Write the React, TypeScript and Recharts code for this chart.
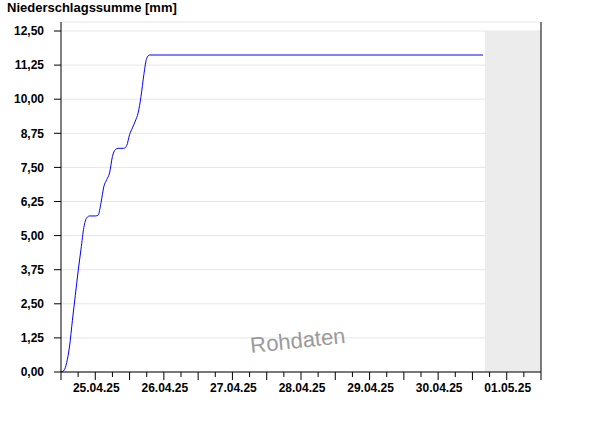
import { LineChart, Line, XAxis, YAxis, CartesianGrid, ReferenceArea, ReferenceLine } from "recharts";

// hours since 25.04.25 00:00
const hours = [0, 1, 2, 3, 4, 5, 6, 7, 8, 9, 10, 12, 13, 14, 15, 16, 17, 18, 19, 20, 22, 23, 24, 25, 26, 27, 28, 29, 30, 31, 147.7];
const precipSum = [0, 0.05, 0.35, 0.95, 1.9, 2.8, 3.7, 4.5, 5.3, 5.65, 5.72, 5.72, 5.75, 6.2, 6.8, 7.05, 7.3, 7.9, 8.15, 8.2, 8.2, 8.3, 8.7, 8.95, 9.2, 9.5, 10.1, 10.9, 11.5, 11.62, 11.62];

const dayLabels = ["25.04.25", "26.04.25", "27.04.25", "28.04.25", "29.04.25", "30.04.25", "01.05.25"];
const yTicks = [0, 1.25, 2.5, 3.75, 5, 6.25, 7.5, 8.75, 10, 11.25, 12.5];
const xTicks = Array.from({ length: 29 }, (_, i) => i * 6);
const noDataFrom = 148.4;

const data = hours.map((h, i) => ({ h, v: precipSum[i] }));

const font = "'Liberation Sans', Arial, sans-serif";

function XTick(props: any) {
  const { x, y, payload } = props;
  const v = payload.value;
  const long = v % 12 === 0;
  const day = Math.floor(v / 24);
  return (
    <g>
      <line x1={x} x2={x} y1={y - 8} y2={y - 8 + (long ? 8 : 5)} stroke="#000" />
      {v % 24 === 12 && dayLabels[day] && (
        <text x={x + 1} y={y + 12} textAnchor="middle" fontSize={12} fontWeight="bold" fontFamily={font} fill="#000">
          {dayLabels[day]}
        </text>
      )}
    </g>
  );
}

export default function App() {
  return (
    <div style={{ position: "fixed", left: 0, top: 0, width: 600, height: 426, background: "#fff", fontFamily: font }}>
      <div style={{ position: "absolute", left: 7, top: 0, fontSize: 13, fontWeight: "bold" }}>Niederschlagssumme [mm]</div>
      <LineChart width={600} height={426} data={data} margin={{ top: 22, right: 59, bottom: 24, left: 0 }}>
        <CartesianGrid vertical={false} stroke="#e6e6e6" />
        <ReferenceArea x1={noDataFrom} x2={168} y1={0} y2={12.5} fill="#ececec" fillOpacity={1} stroke="none" />
        <XAxis
          dataKey="h"
          type="number"
          domain={[0, 168]}
          ticks={xTicks}
          interval={0}
          height={30}
          axisLine={{ stroke: "#000" }}
          tickLine={false}
          tick={<XTick />}
        />
        <YAxis
          type="number"
          domain={[0, 12.83]}
          ticks={yTicks}
          interval={0}
          width={61}
          axisLine={{ stroke: "#000" }}
          tickLine={{ stroke: "#000" }}
          tickSize={7}
          tickMargin={10}
          tick={{ fontSize: 12, fontWeight: "bold", fill: "#000", fontFamily: font }}
          tickFormatter={(v: number) => v.toFixed(2).replace(".", ",")}
        />
        <ReferenceLine x={168} stroke="#000" />
        <Line type="monotone" dataKey="v" stroke="#0000ff" strokeWidth={1} dot={false} isAnimationActive={false} />
      </LineChart>
      <div
        style={{
          position: "absolute",
          left: 249,
          top: 333,
          fontSize: 22,
          color: "#9a9a9a",
          transform: "rotate(-6deg)",
          transformOrigin: "left top",
        }}
      >
        Rohdaten
      </div>
    </div>
  );
}
